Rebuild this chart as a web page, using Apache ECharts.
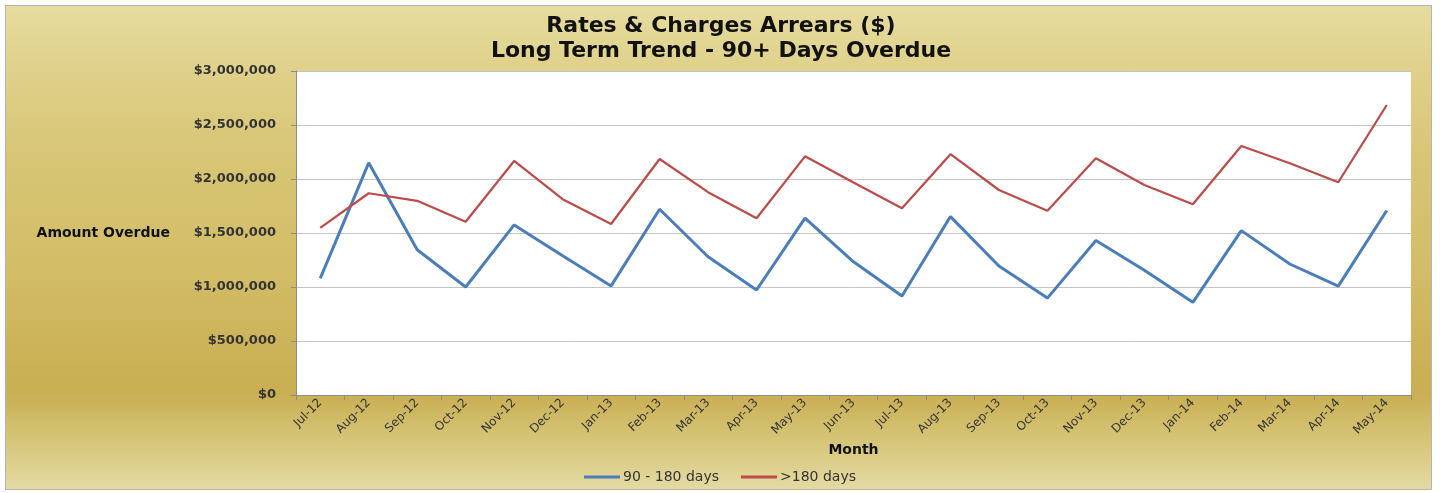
<!DOCTYPE html>
<html>
<head>
<meta charset="utf-8">
<script src="https://cdn.jsdelivr.net/npm/echarts@6/dist/echarts.min.js"></script>
<style>
html,body{margin:0;padding:0;background:#fff;}
#frame{position:absolute;left:5px;top:5px;width:1425px;height:483px;border:1px solid #b4b4b4;
background:linear-gradient(to bottom,#e6dc9f 0%,#e0d28c 12%,#d8c676 30%,#d2bc66 55%,#c9ae52 80%,#d6c578 90%,#e4daa3 100%);}
#chart{position:absolute;left:0;top:0;width:1440px;height:493px;}
</style>
</head>
<body>
<div id="frame"></div>
<div id="chart"></div>
<script>
const months = ['Jul-12','Aug-12','Sep-12','Oct-12','Nov-12','Dec-12','Jan-13','Feb-13','Mar-13','Apr-13','May-13','Jun-13','Jul-13','Aug-13','Sep-13','Oct-13','Nov-13','Dec-13','Jan-14','Feb-14','Mar-14','Apr-14','May-14'];
const days90to180 = [1080000,2150000,1345000,1000000,1575000,1290000,1010000,1720000,1280000,972000,1637000,1233000,917000,1652000,1194000,897000,1430000,1155000,858000,1522000,1213000,1008000,1708000];
const days180plus = [1548000,1868000,1798000,1604000,2167000,1813000,1583000,2185000,1878000,1637000,2210000,1968000,1730000,2230000,1898000,1706000,2192000,1944000,1766000,2306000,2146000,1970000,2685000];
const seriesNames = ['90 - 180 days','>180 days'];
const titleLines = ['Rates & Charges Arrears ($)','Long Term Trend - 90+ Days Overdue'];

const chart = echarts.init(document.getElementById('chart'));
const font = 'DejaVu Sans';
chart.setOption({
  backgroundColor: 'transparent',
  animation: false,
  title: {
    text: titleLines.join('\n'),
    left: 716, top: 9, textAlign: 'center',
    textStyle: {fontFamily: font, fontWeight: 'bold', fontSize: 22, lineHeight: 25, color: '#111'}
  },
  grid: {left: 296, right: 29, top: 71, bottom: 98, show: true, backgroundColor: '#fff', borderWidth: 0},
  legend: {
    bottom: 4, left: 'center', icon: 'rect',
    itemWidth: 36, itemHeight: 3, itemGap: 22,
    textStyle: {fontFamily: font, fontSize: 14, color: '#333', padding: [0, 0, 0, -2]},
    data: seriesNames
  },
  xAxis: {
    type: 'category', data: months, boundaryGap: true,
    name: 'Month', nameLocation: 'middle', nameGap: 47,
    nameTextStyle: {fontFamily: font, fontWeight: 'bold', fontSize: 14, color: '#111'},
    axisLine: {lineStyle: {color: '#8c8c8c'}},
    axisTick: {show: true, alignWithLabel: false, length: 5, lineStyle: {color: '#8c8c8c'}},
    axisLabel: {rotate: 45, interval: 0, margin: 6, fontFamily: font, fontSize: 12, color: '#333'}
  },
  yAxis: {
    type: 'value', min: 0, max: 3000000, interval: 500000,
    name: 'Amount Overdue', nameLocation: 'middle', nameRotate: 0, nameGap: 126,
    nameTextStyle: {fontFamily: font, fontWeight: 'bold', fontSize: 14, color: '#111', align: 'right'},
    axisLine: {show: true, lineStyle: {color: '#8c8c8c'}},
    axisTick: {show: true, length: 5, lineStyle: {color: '#8c8c8c'}},
    splitLine: {lineStyle: {color: '#c4c4c4', width: 1}},
    axisLabel: {margin: 20, fontFamily: font, fontSize: 13, fontWeight: 'bold', color: '#333',
      formatter: v => '$' + v.toLocaleString('en-US')}
  },
  series: [
    {name: seriesNames[0], type: 'line', data: days90to180, symbol: 'none', lineStyle: {color: '#4a7ebb', width: 3}, itemStyle: {color: '#4a7ebb'}},
    {name: seriesNames[1], type: 'line', data: days180plus, symbol: 'none', lineStyle: {color: '#be4b48', width: 2.25}, itemStyle: {color: '#be4b48'}}
  ]
});
</script>
</body>
</html>
